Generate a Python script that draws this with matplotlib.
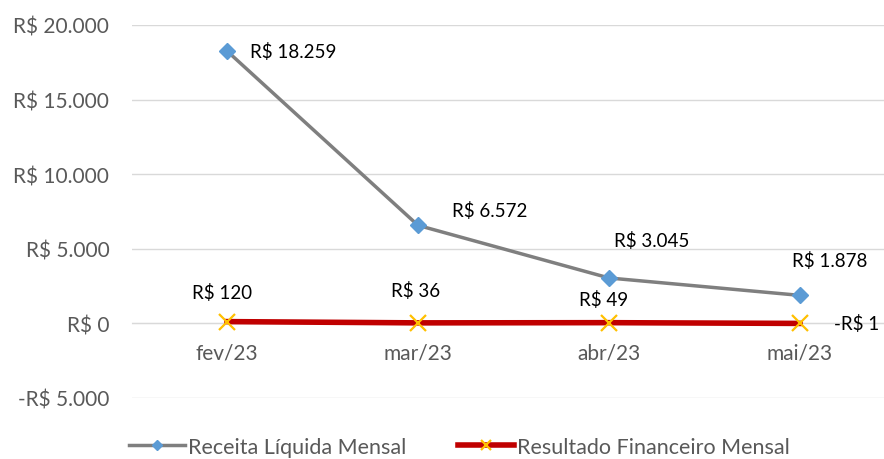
#!/usr/bin/python
# Receita liquida vs resultado financeiro mensal - line chart (Excel style)

import matplotlib
matplotlib.use("Agg")
import matplotlib.pyplot as plt
from matplotlib.ticker import FuncFormatter

# data
meses     = ["fev/23", "mar/23", "abr/23", "mai/23"]
receita   = [18259, 6572, 3045, 1878]
resultado = [120, 36, 49, -1]
yticks    = [-5000, 0, 5000, 10000, 15000, 20000]

# label offsets in pixels (layout only)
off_receita   = [(66, 0), (72, 15), (43, 38), (30, 35)]
off_resultado = [(-5, 30), (-2, 33), (-5, 24), (57, 0)]

plt.rcParams["font.family"] = ["Lato", "DejaVu Sans"]

def brl(v, pos=None):
    s = "{:,.0f}".format(abs(v)).replace(",", ".")
    return ("-R$ " if v < 0 else "R$ ") + s

def main():
    fig = plt.figure(figsize=(8.84, 4.6), dpi=100)
    ax = fig.add_axes([131.5/884, 1-399/460, 1-131.5/884, (399-26)/460])

    x = list(range(len(meses)))
    l1, = ax.plot(x, receita, color="#7f7f7f", lw=2.5, marker="D", ms=8,
                  mfc="#5b9bd5", mec="#5b9bd5", zorder=3,
                  label="Receita Líquida Mensal")
    l2, = ax.plot(x, resultado, color="#c00000", lw=4, marker="x", ms=11,
                  mew=1.6, mec="#ffc000", zorder=4,
                  label="Resultado Financeiro Mensal")

    # data labels
    for xi, v, o in zip(x, receita, off_receita):
        ax.annotate(brl(v), (xi, v), xytext=o, textcoords="offset pixels",
                    ha="center", va="center", fontsize=13.5, color="#000000")
    for xi, v, o in zip(x, resultado, off_resultado):
        ax.annotate(brl(v), (xi, v), xytext=o, textcoords="offset pixels",
                    ha="center", va="center", fontsize=13.5, color="#000000")

    # axes
    ax.set_xlim(-0.5, (884-131.5)/191 - 0.5)
    ax.set_ylim(-5000, 20000)
    ax.set_yticks(yticks)
    ax.yaxis.set_major_formatter(FuncFormatter(brl))
    ax.set_xticks(x)
    ax.set_xticklabels(meses)
    ax.grid(axis="y", color="#d9d9d9", lw=1)
    ax.set_axisbelow(True)
    for s in ["top", "right", "left"]:
        ax.spines[s].set_visible(False)
    ax.spines["bottom"].set_position(("data", 0))
    ax.spines["bottom"].set_color("#d9d9d9")
    ax.tick_params(axis="both", length=0, labelsize=15, colors="#595959")
    ax.tick_params(axis="x", pad=14)
    ax.tick_params(axis="y", pad=16)

    fig.legend(handles=[l1, l2], loc="center", bbox_to_anchor=(0.52, 1-448/460),
               ncol=2, frameon=False, fontsize=15.5, labelcolor="#595959",
               handlelength=2.6, handletextpad=0.15, columnspacing=2.4,
               markerscale=0.7)

    fig.savefig("out.png", dpi=100)

if __name__ == "__main__":
    main()
